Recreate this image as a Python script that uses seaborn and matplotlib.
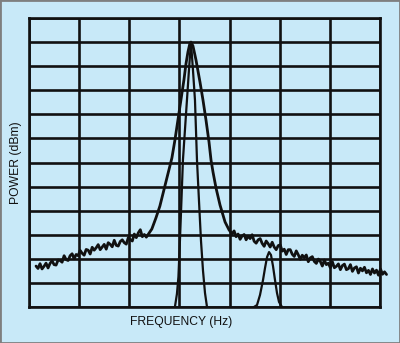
import matplotlib
matplotlib.use("Agg")
import matplotlib.pyplot as plt
import seaborn as sns
import pandas as pd
from matplotlib.patches import Rectangle

# ---- data (frequency in Hz, power in dBm) ----
left_noise_f = [14, 18, 22, 26, 30, 34, 38, 42, 46, 50, 54, 58, 62, 66, 70, 74, 78, 82, 86,
                90, 94, 98, 102, 106, 110, 114, 118, 122, 126, 130, 134, 138, 142, 146, 150,
                154, 158, 162, 166, 170, 174, 178, 182, 186, 190, 194, 198, 202, 206, 210,
                214, 218, 222, 226, 230, 234]
left_noise_p = [-103.0, -104.0, -102.0, -104.2, -103.1, -101.8, -103.8, -101.9, -100.8,
                -102.4, -102.6, -100.5, -100.7, -101.4, -98.7, -100.3, -100.7, -98.7, -97.9,
                -100.0, -98.2, -98.7, -96.5, -97.7, -98.5, -96.1, -96.4, -98.0, -95.2, -96.4,
                -95.4, -94.1, -96.2, -95.1, -94.0, -96.0, -93.3, -94.0, -95.0, -92.3, -94.4,
                -94.7, -92.8, -92.1, -93.3, -93.9, -91.2, -92.0, -92.6, -89.7, -91.2, -89.2,
                -87.9, -90.8, -89.9, -91.0]

peak_f = [245, 253, 261, 269, 277, 285, 291, 297, 303, 309, 313, 317, 321, 323,
          327, 333, 341, 347, 353, 359, 363, 367, 373, 381, 391, 399]
peak_p = [-87.6, -83.1, -78.1, -71.4, -64.8, -58.1, -50.7, -42.4, -34.1, -25.7, -19.1, -14.1,
          -10.4, -10.0, -11.6, -17.4, -26.6, -34.1, -42.4, -51.5, -59.0, -64.0, -70.6, -77.7,
          -84.7, -88.0]

right_noise_f = [405, 409, 413, 417, 421, 425, 429, 433, 437, 441, 445, 449, 453, 457, 461,
                 465, 469, 473, 477, 481, 485, 489, 493, 497, 501, 505, 509, 513, 517, 521,
                 525, 529, 533, 537, 541, 545, 549, 553, 557, 561, 565, 569, 573, 577, 581,
                 585, 589, 593, 597, 601, 605, 609, 613, 617, 621, 625, 629, 633, 637, 641,
                 645, 649, 653, 657, 661, 665, 669, 673, 677, 681, 685, 689, 693, 697, 701,
                 705, 709, 713]
right_noise_p = [-89.6, -88.4, -90.8, -89.7, -91.9, -90.5, -89.9, -92.1, -90.6, -91.6, -90.0,
                 -92.7, -93.5, -92.1, -91.6, -93.6, -94.8, -92.6, -93.7, -95.1, -93.1, -95.1,
                 -96.2, -94.5, -94.2, -96.8, -96.0, -98.2, -96.2, -96.2, -98.1, -99.0, -96.7,
                 -98.3, -100.2, -98.5, -99.5, -98.4, -101.2, -99.6, -99.1, -101.1, -101.9,
                 -100.1, -101.1, -103.0, -100.5, -102.4, -101.8, -103.7, -101.2, -103.7,
                 -103.1, -102.1, -104.5, -102.8, -102.2, -104.5, -104.1, -102.4, -105.2,
                 -103.8, -103.3, -105.9, -103.9, -105.0, -103.5, -105.8, -104.8, -106.5,
                 -104.2, -105.9, -104.7, -106.8, -104.2, -106.4, -105.4, -106.5]

narrow_f = [291, 295, 298, 301, 304, 307, 311, 315, 319, 323,
            327, 331, 333, 335, 339, 343, 347, 351, 355]
narrow_p = [-120.0, -114.6, -107.5, -92.5, -75.9, -59.0, -46.5, -34.1, -21.6, -10.0,
            -21.6, -34.1, -46.5, -59.0, -75.9, -92.5, -104.9, -114.2, -120.0]

small_f = [448.7, 454.7, 460.7, 466.7, 470.7, 474.7, 478.7, 482.6, 486.6, 490.6, 494.6,
           498.6, 504.6]
small_p = [-120.0, -119.2, -115.0, -108.8, -103.8, -99.3, -97.2, -98.4, -103.0, -108.8,
           -114.2, -117.9, -120.0]

x_grid = [0, 100, 200, 300, 400, 500, 600, 700]
y_grid = [-120, -110, -100, -90, -80, -70, -60, -50, -40, -30, -20, -10, 0]

xlabel = "FREQUENCY (Hz)"
ylabel = "POWER (dBm)"

# ---- figure ----
bg = "#c8e9f8"
sns.set_theme(style="white")
plt.rcParams["font.family"] = ["Liberation Sans", "DejaVu Sans"]

fig = plt.figure(figsize=(4.0, 3.43), dpi=100, facecolor=bg)
ax = fig.add_axes([29 / 400, 36 / 343, 351 / 400, 289 / 343])
ax.set_facecolor(bg)

broad = pd.DataFrame({
    "f": left_noise_f + peak_f + right_noise_f,
    "p": left_noise_p + peak_p + right_noise_p,
})
narrow = pd.DataFrame({"f": narrow_f, "p": narrow_p})
small = pd.DataFrame({"f": small_f, "p": small_p})

kw = dict(x="f", y="p", sort=False, estimator=None, color="#111111", ax=ax)
sns.lineplot(data=broad, linewidth=2.0, clip_on=False, **kw)
sns.lineplot(data=narrow, linewidth=1.6, **kw)
sns.lineplot(data=small, linewidth=1.6, **kw)

ax.set_xlim(0, 700)
ax.set_ylim(-120, 0)
ax.set_xticks(x_grid)
ax.set_yticks(y_grid)
ax.grid(True, color="#111111", linewidth=1.9)
ax.tick_params(left=False, bottom=False, labelleft=False, labelbottom=False)
ax.set_xlabel("")
ax.set_ylabel("")
for s in ax.spines.values():
    s.set_color("#111111")
    s.set_linewidth(1.9)
ax.set_axisbelow(True)

fig.text(181 / 400, 1 - 322 / 343, xlabel, ha="center", va="center", fontsize=8.7, color="#111111")
fig.text(16 / 400, 1 - 163 / 343, ylabel, ha="center", va="center", rotation=90,
         fontsize=8.7, color="#111111")

fig.patches.append(Rectangle((0, 0), 1, 1, transform=fig.transFigure, fill=False,
                             edgecolor="#7f7f7f", linewidth=2.0))

fig.savefig("out.png", dpi=100, facecolor=bg)
